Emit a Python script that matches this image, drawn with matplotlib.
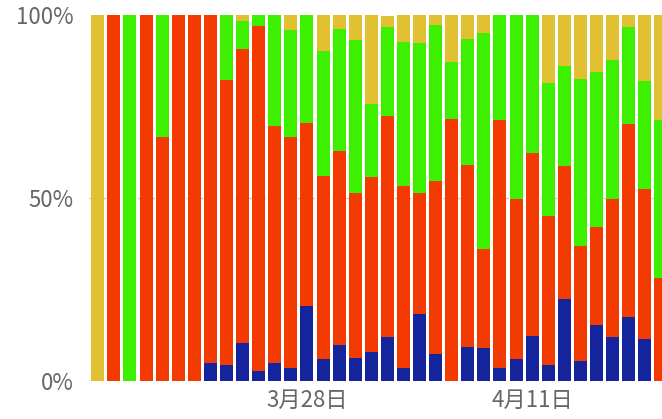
import matplotlib
matplotlib.use("Agg")
import matplotlib.pyplot as plt
import numpy as np

plt.rcParams['font.family'] = ['Noto Sans CJK SC', 'DejaVu Sans']

# 36 days starting 3月15日 (index 13 = 3月28日, index 27 = 4月11日)
dates = [f"3月{d}日" for d in range(15, 32)] + [f"4月{d}日" for d in range(1, 20)]

blue = [0, 0, 0, 0, 0, 0, 0, 4.9, 4.2, 10.2, 2.5, 4.7, 3.4, 20.5, 6.0, 9.7, 6.2, 7.8,
        11.9, 3.3, 18.3, 7.2, 0, 9.1, 8.9, 3.3, 6.0, 12.2, 4.2, 22.4, 5.3, 15.2, 11.8,
        17.3, 11.5, 0]
red = [0, 100, 0, 100, 66.6, 100, 100, 95.1, 78.2, 80.6, 94.7, 65.0, 63.2, 50.0, 50.0,
       53.2, 45.1, 47.9, 60.5, 50.0, 33.2, 47.5, 71.7, 50.0, 27.2, 68.0, 43.8, 50.0, 41.0,
       36.5, 31.6, 26.8, 38.0, 53.0, 41.0, 28.2]
green = [0, 0, 100, 0, 33.4, 0, 0, 0, 17.6, 7.6, 2.8, 30.3, 29.5, 29.5, 34.4, 33.5, 41.9,
         20.0, 24.4, 39.4, 40.9, 42.6, 15.6, 34.4, 59.1, 28.7, 50.2, 37.8, 36.4, 27.2, 45.6,
         42.5, 38.0, 26.5, 29.6, 43.1]
yellow = [100, 0, 0, 0, 0, 0, 0, 0, 0, 1.6, 0, 0, 3.9, 0, 9.6, 3.6, 6.8, 24.3, 3.2, 7.3,
          7.6, 2.7, 12.7, 6.5, 4.8, 0, 0, 0, 18.4, 13.9, 17.5, 15.5, 12.2, 3.2, 17.9, 28.7]

tick_idx = [13, 27]
y_ticks = [0, 50, 100]
y_labels = ["0%", "50%", "100%"]

series = [blue, red, green, yellow]
colors = ['#14249C', '#F33A00', '#3DF000', '#E1C132']

fig = plt.figure(figsize=(6.62, 4.19), dpi=100)
W, H = 662, 419
ax = fig.add_axes([89 / W, 38.5 / H, (662 - 89) / W, 365 / H])

x = np.arange(len(dates))
tot = np.array(blue) + np.array(red) + np.array(green) + np.array(yellow)
bottom = np.zeros(len(dates))
for vals, c in zip(series, colors):
    v = np.array(vals) / tot * 100
    ax.bar(x, v, bottom=bottom, width=0.808, color=c, linewidth=0, zorder=2)
    bottom += v

for yv in [0, 50]:
    ax.axhline(yv, color='#C8C8C8', lw=1, ls=(0, (2, 3)), zorder=1)

ax.set_xlim(-0.547, 35.07)
ax.set_ylim(0, 100)
ax.set_yticks(y_ticks)
ax.set_yticklabels(y_labels)
ax.set_xticks(tick_idx)
ax.set_xticklabels([dates[i] for i in tick_idx])
ax.tick_params(axis='both', length=0, labelsize=16, colors='#666666')
ax.tick_params(axis='y', pad=11)
ax.tick_params(axis='x', pad=6)
for s in ax.spines.values():
    s.set_visible(False)

fig.savefig("out.png", dpi=100)
